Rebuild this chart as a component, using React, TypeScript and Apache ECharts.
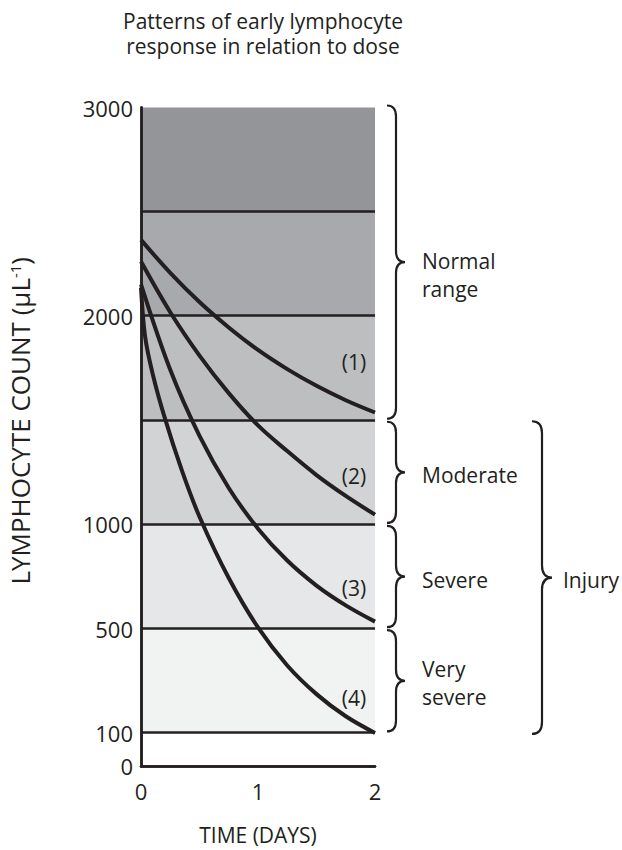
import React, { useEffect, useRef } from 'react';
import * as echarts from 'echarts';

// ---- data ----
const TIME_TICKS = [0, 1, 2];
const Y_TICKS = [0, 100, 500, 1000, 2000, 3000];
const BAND_EDGES = [0, 100, 500, 1000, 1500, 2000, 2500, 3000];
const BAND_COLORS = ['#ffffff', '#f1f2f2', '#e6e7e8', '#d1d3d4', '#bcbec0', '#a7a9ac', '#939598'];

const curveT = [0, 0.25, 0.5, 0.75, 1, 1.25, 1.5, 1.75, 2];
const curve1V = [2365, 2207, 2067, 1945, 1837, 1745, 1665, 1596, 1537];
const curve2V = [2261, 2018, 1810, 1630, 1475, 1352, 1237, 1137, 1047];
const curve3V = [2152, 1742, 1425, 1175, 980, 827, 707, 612, 534];
const curve4T = [0, 0.035, 0.1, 0.2, 0.35, 0.5, 0.75, 1, 1.25, 1.5, 1.75, 2];
const curve4V = [2136, 1902, 1722, 1517, 1258, 1037, 743, 506, 359, 249, 164, 100];
const CURVE_NAMES = ['(1)', '(2)', '(3)', '(4)'];
const CURVE_LABEL_T = [1.82, 1.82, 1.82, 1.82];
const CURVE_LABEL_V = [1781, 1232, 697, 233];

const BRACE_LABELS = ['Normal\nrange', 'Moderate', 'Severe', 'Very\nsevere'];
const BRACE_LOW = [1500, 1000, 500, 100];
const BRACE_HIGH = [3000, 1500, 1000, 500];
const INJURY_LABEL = 'Injury';
const INJURY_LOW = 100;
const INJURY_HIGH = 1500;

const TITLE_LINES = ['Patterns of early lymphocyte', 'response in relation to dose'];
const X_NAME = 'TIME (DAYS)';

// piecewise axis: 0-100 compressed, 100-500 one unit, 500+ one unit per 500
const P100 = 0.317;
function toPos(v: number): number {
  if (v <= 100) return (v / 100) * P100;
  if (v <= 500) return P100 + (v - 100) / 400;
  return P100 + 1 + (v - 500) / 500;
}
const YMAX = toPos(3000);

const INK = '#231f20';
const FONT = 'Open Sans';
const FS = 21;

export default function App() {
  const ref = useRef<HTMLDivElement>(null);
  useEffect(() => {
    document.body.style.margin = '0';
    const el = ref.current!;
    const chart = echarts.init(el, null, { renderer: 'svg' });
    const curves: [number[], number[]][] = [
      [curveT, curve1V],
      [curveT, curve2V],
      [curveT, curve3V],
      [curve4T, curve4V],
    ];
    const bandAreas = BAND_COLORS.map((c, i) => [
      { yAxis: toPos(BAND_EDGES[i]), itemStyle: { color: c } },
      { yAxis: toPos(BAND_EDGES[i + 1]) },
    ]);
    const bandLines = BAND_EDGES.slice(1, -1).map((e) => ({ yAxis: toPos(e) }));
    const tickPos = Y_TICKS.map(toPos);
    const option: any = {
      animation: false,
      grid: { left: 141, right: 247, top: 107.5, bottom: 75.5 },
      xAxis: [
        {
          type: 'value', min: 0, max: 2, interval: 1, z: 10,
          name: X_NAME, nameLocation: 'middle', nameGap: 58,
          nameTextStyle: { fontFamily: FONT, fontSize: FS, color: INK },
          axisLine: { show: true, lineStyle: { color: INK, width: 2.5 } },
          axisTick: { show: false },
          splitLine: { show: false },
          axisLabel: { fontFamily: FONT, fontSize: 22, color: INK, margin: 14,
            formatter: (v: number) => (TIME_TICKS.includes(v) ? String(v) : '') },
        },
        {
          type: 'value', min: 0, max: 2, position: 'top', z: 10,
          axisLine: { show: true, lineStyle: { color: INK, width: 2.5 } },
          axisTick: { show: false }, axisLabel: { show: false }, splitLine: { show: false },
        },
      ],
      yAxis: [
        {
          type: 'value', min: 0, max: YMAX, z: 10,
          name: 'LYMPHOCYTE COUNT (µL{sup|-1})', nameLocation: 'middle', nameGap: 108, nameRotate: 90,
          nameTextStyle: { fontFamily: FONT, fontSize: 26, color: INK, padding: [0, 0, 0, 32],
            rich: { sup: { fontFamily: FONT, fontSize: 15, color: INK, verticalAlign: 'bottom', padding: [0, 0, 11, 0] } } },
          axisLine: { show: true, lineStyle: { color: INK, width: 2.5 } },
          axisTick: { show: false },
          splitLine: { show: false },
          axisLabel: {
            customValues: tickPos,
            fontFamily: FONT, fontSize: 22, color: INK, margin: 8,
            formatter: (v: number) => {
              let best = 0;
              tickPos.forEach((p, i) => { if (Math.abs(p - v) < Math.abs(tickPos[best] - v)) best = i; });
              return String(Y_TICKS[best]);
            },
          },
        },
        {
          type: 'value', min: 0, max: YMAX, position: 'right', z: 10,
          axisLine: { show: true, lineStyle: { color: INK, width: 2.5 } },
          axisTick: { show: false }, axisLabel: { show: false }, splitLine: { show: false },
        },
      ],
      series: [
        {
          type: 'line', data: [], z: 1, silent: true,
          markArea: { silent: true, data: bandAreas },
          markLine: {
            silent: true, symbol: ['none', 'none'], label: { show: false },
            lineStyle: { color: INK, width: 2.5, type: 'solid' },
            data: bandLines,
          },
        },
        ...curves.map(([ts, vs], k) => ({
          type: 'line', z: 3, smooth: 0.35, symbol: 'none', silent: true,
          lineStyle: { color: INK, width: 4 },
          data: ts.map((t, i) => [t, toPos(vs[i])]),
          markPoint: {
            silent: true, symbol: 'circle', symbolSize: 0,
            label: { show: true, position: 'inside', formatter: CURVE_NAMES[k],
              fontFamily: FONT, fontSize: FS, color: INK },
            data: [{ coord: [CURVE_LABEL_T[k], toPos(CURVE_LABEL_V[k])] }],
          },
        })),
      ],
    };
    chart.setOption(option);

    const px = (t: number, v: number) => chart.convertToPixel({ seriesIndex: 1 }, [t, toPos(v)]) as number[];
    const braceD = (x0: number, y1: number, y2: number, w: number, r: number) => {
      const xs = x0 + w / 2;
      const xt = x0 + w;
      const ym = (y1 + y2) / 2;
      return `M${x0} ${y1} Q${xs} ${y1} ${xs} ${y1 + r} L${xs} ${ym - r} Q${xs} ${ym} ${xt} ${ym} ` +
        `Q${xs} ${ym} ${xs} ${ym + r} L${xs} ${y2 - r} Q${xs} ${y2} ${x0} ${y2}`;
    };
    const graphics: any[] = [];
    const xRight = px(2, 0)[0];
    const labelDy = [13, 3, 3, 2];
    BRACE_LABELS.forEach((lab, i) => {
      const y1 = px(2, BRACE_HIGH[i])[1] + (i === 0 ? -2 : 1.5);
      const y2 = px(2, BRACE_LOW[i])[1] - 1.5;
      const x0 = xRight + 12;
      const name = 'brace' + i;
      echarts.graphic.registerShape(name, echarts.graphic.extendPath(braceD(x0, y1, y2, 18, 11), {}) as any);
      graphics.push({ type: name, silent: true, style: { fill: 'none', stroke: INK, lineWidth: 2.2 } });
      graphics.push({
        type: 'text', silent: true, x: x0 + 35, y: (y1 + y2) / 2 + labelDy[i],
        style: { text: lab, fontFamily: FONT, fontSize: FS, fill: INK, align: 'left', verticalAlign: 'middle', lineHeight: 28 },
      });
    });
    {
      const y1 = px(2, INJURY_HIGH)[1] + 1;
      const y2 = px(2, INJURY_LOW)[1] + 1;
      const x0 = xRight + 157;
      echarts.graphic.registerShape('braceInj', echarts.graphic.extendPath(braceD(x0, y1, y2, 20, 12), {}) as any);
      graphics.push({ type: 'braceInj', silent: true, style: { fill: 'none', stroke: INK, lineWidth: 2.2 } });
      graphics.push({
        type: 'text', silent: true, x: x0 + 31, y: (y1 + y2) / 2 + 2,
        style: { text: INJURY_LABEL, fontFamily: FONT, fontSize: FS, fill: INK, align: 'left', verticalAlign: 'middle' },
      });
    }
    TITLE_LINES.forEach((line, i) => {
      graphics.push({
        type: 'text', silent: true, x: 263, y: 21 + i * 25,
        style: { text: line, fontFamily: FONT, fontSize: FS, fill: INK, align: 'center', verticalAlign: 'middle' },
      });
    });
    chart.setOption({ graphic: graphics });

    return () => chart.dispose();
  }, []);
  return <div ref={ref} style={{ position: 'absolute', left: 0, top: 0, width: 622, height: 850 }} />;
}
